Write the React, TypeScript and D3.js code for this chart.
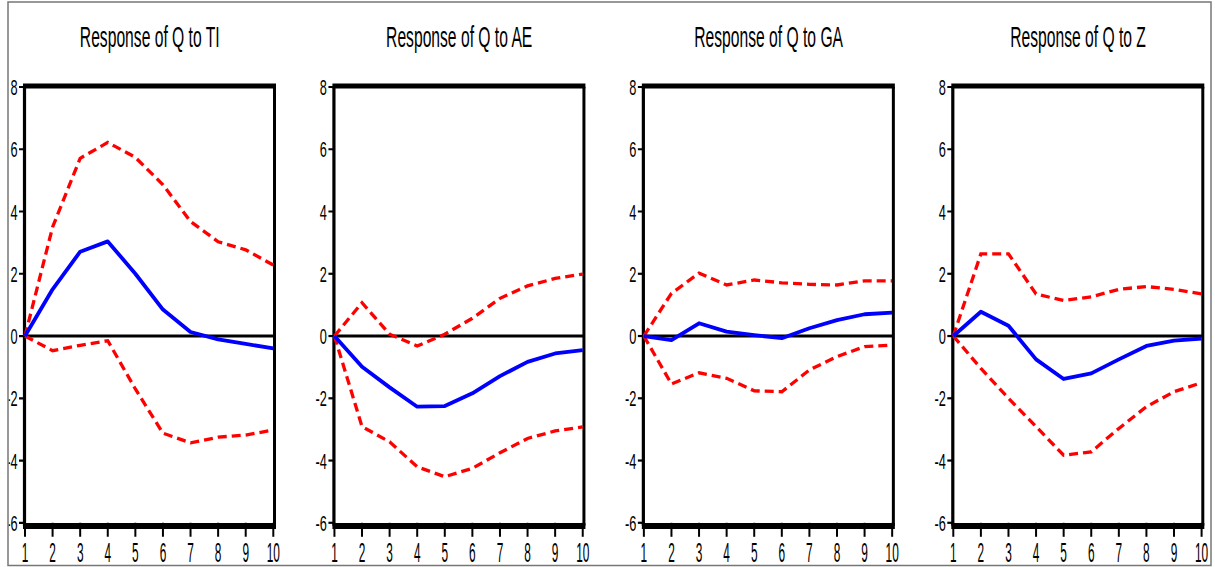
import React from "react";
import * as d3 from "d3";

const W = 1215;
const H = 567;

// periods 1..10
const periods = [1, 2, 3, 4, 5, 6, 7, 8, 9, 10];
const yTicks = [8, 6, 4, 2, 0, -2, -4, -6];

const titles = [
  "Response of Q to TI",
  "Response of Q to AE",
  "Response of Q to GA",
  "Response of Q to Z",
];

// impulse responses (blue) and +/- 2 s.e. bands (red dashed)
const respTI = [0, 1.5, 2.71, 3.04, 2.0, 0.85, 0.13, -0.11, -0.25, -0.4];
const upperTI = [0, 3.5, 5.71, 6.22, 5.74, 4.86, 3.68, 3.03, 2.77, 2.28];
const lowerTI = [0, -0.47, -0.3, -0.15, -1.7, -3.12, -3.43, -3.25, -3.18, -3.02];

const respAE = [0, -0.99, -1.65, -2.27, -2.25, -1.84, -1.29, -0.83, -0.56, -0.45];
const upperAE = [0, 1.07, 0.06, -0.32, 0.06, 0.57, 1.21, 1.61, 1.85, 1.99];
const lowerAE = [0, -2.91, -3.4, -4.2, -4.52, -4.25, -3.75, -3.29, -3.05, -2.92];

const respGA = [0, -0.13, 0.41, 0.14, 0.03, -0.07, 0.25, 0.51, 0.7, 0.75];
const upperGA = [0, 1.37, 2.02, 1.64, 1.8, 1.71, 1.66, 1.64, 1.77, 1.77];
const lowerGA = [0, -1.54, -1.18, -1.36, -1.76, -1.79, -1.09, -0.66, -0.34, -0.29];

const respZ = [0, 0.78, 0.33, -0.75, -1.38, -1.2, -0.75, -0.32, -0.15, -0.08];
const upperZ = [0, 2.64, 2.64, 1.35, 1.14, 1.26, 1.5, 1.59, 1.5, 1.35];
const lowerZ = [0, -1.04, -2.0, -2.91, -3.83, -3.72, -2.97, -2.27, -1.79, -1.5];

const responses = [respTI, respAE, respGA, respZ];
const uppers = [upperTI, upperAE, upperGA, upperZ];
const lowers = [lowerTI, lowerAE, lowerGA, lowerZ];

const PANEL_W = 248.3;
const panelLeft = d3.scaleLinear().domain([0, 3]).range([25, 953.3]);
const y = d3.scaleLinear().domain([-6, 8]).range([522.8, 87]);

const FONT = "'Liberation Sans', Arial, sans-serif";

function Panel({ i }: { i: number }) {
  const left = panelLeft(i);
  const x = d3.scaleLinear().domain([1, 10]).range([left, left + PANEL_W]);
  const line = d3
    .line<number>()
    .x((_, k) => x(periods[k]))
    .y((d) => y(d));
  const top = y(8);
  const bot = y(-6);
  const right = x(10) + 1.2;
  return (
    <g>
      <text
        transform={`translate(${(left + right) / 2},47) scale(0.54,1)`}
        textAnchor="middle"
        fontFamily={FONT}
        fontSize={29}
        fill="#000"
      >
        {titles[i]}
      </text>
      {/* y ticks */}
      {yTicks.map((t) => (
        <g key={t}>
          <line x1={left - 6} x2={left} y1={y(t)} y2={y(t)} stroke="#000" strokeWidth={2.2} />
          <text
            transform={`translate(${left - 7.5},${y(t) + 8}) scale(0.58,1)`}
            textAnchor="end"
            fontFamily={FONT}
            fontSize={22}
            fill="#000"
          >
            {t}
          </text>
        </g>
      ))}
      {/* x ticks */}
      {periods.map((p) => (
        <g key={p}>
          <line x1={x(p)} x2={x(p)} y1={bot} y2={bot + 14} stroke="#000" strokeWidth={2} />
          <text
            transform={`translate(${x(p)},562) scale(0.44,1)`}
            textAnchor="middle"
            fontFamily={FONT}
            fontSize={27}
            fill="#000"
          >
            {p}
          </text>
        </g>
      ))}
      {/* zero line */}
      <line x1={left} x2={right} y1={y(0)} y2={y(0)} stroke="#000" strokeWidth={3} />
      {/* frame */}
      <line x1={left - 0.5} x2={left - 0.5} y1={top} y2={bot + 3} stroke="#000" strokeWidth={3.2} />
      <line x1={right} x2={right} y1={top} y2={bot + 3} stroke="#000" strokeWidth={3} />
      <line x1={left - 2} x2={right + 1.5} y1={top - 1} y2={top - 1} stroke="#000" strokeWidth={5} />
      <line x1={left - 2} x2={right + 1.5} y1={bot + 3.2} y2={bot + 3.2} stroke="#000" strokeWidth={6} />
      {/* bands */}
      <path d={line(uppers[i]) || ""} fill="none" stroke="#ff0000" strokeWidth={3.3} strokeDasharray="9,5" />
      <path d={line(lowers[i]) || ""} fill="none" stroke="#ff0000" strokeWidth={3.3} strokeDasharray="9,5" />
      <path d={line(responses[i]) || ""} fill="none" stroke="#0000ff" strokeWidth={3.8} strokeLinejoin="round" />
    </g>
  );
}

export default function App() {
  return (
    <svg
      width={W}
      height={H}
      style={{ position: "absolute", left: 0, top: 0, background: "#fff" }}
    >
      <defs>
        <clipPath id="outer">
          <rect x={8.5} y={2} width={1202.5} height={563} />
        </clipPath>
      </defs>
      <rect width={W} height={H} fill="#fff" />
      <g clipPath="url(#outer)">
        {[0, 1, 2, 3].map((i) => (
          <Panel key={i} i={i} />
        ))}
      </g>
      <rect x={8} y={2} width={1203} height={563.5} fill="none" stroke="#777" strokeWidth={1.5} />
    </svg>
  );
}
